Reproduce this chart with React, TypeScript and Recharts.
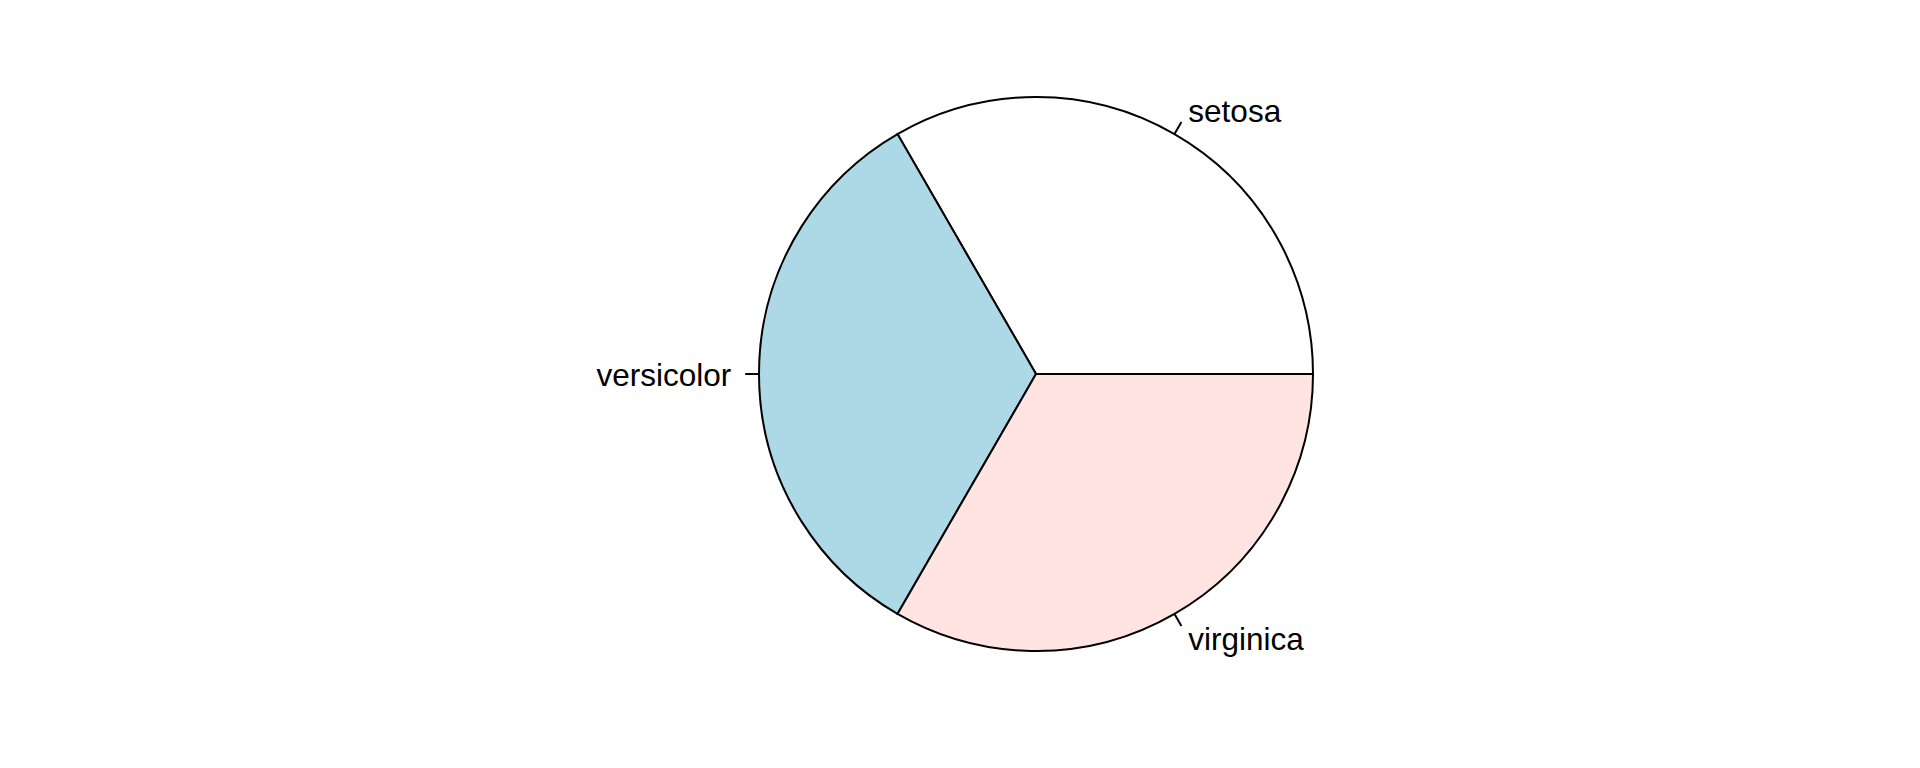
import { Pie, PieChart, Cell } from "recharts";

const species = ["setosa", "versicolor", "virginica"];
const counts = [50, 50, 50];
const sliceColors = ["#FFFFFF", "#ADD8E6", "#FFE4E1"];

const data = species.map((name, i) => ({ name, value: counts[i] }));

const RADIAN = Math.PI / 180;

function SliceLabel(props: any) {
  const { cx, cy, midAngle, outerRadius, name } = props;
  const c = Math.cos(-midAngle * RADIAN);
  const s = Math.sin(-midAngle * RADIAN);
  const x1 = cx + outerRadius * c;
  const y1 = cy + outerRadius * s;
  const x2 = cx + outerRadius * 1.05 * c;
  const y2 = cy + outerRadius * 1.05 * s;
  const tx = cx + outerRadius * 1.1 * c;
  const ty = cy + outerRadius * 1.1 * s;
  return (
    <g>
      <line x1={x1} y1={y1} x2={x2} y2={y2} stroke="#000" strokeWidth={2} />
      <text
        x={tx}
        y={ty}
        dy={12}
        textAnchor={c < 0 ? "end" : "start"}
        fill="#000"
        fontSize={31.5}
        fontFamily="'Liberation Sans', Arial, sans-serif"
      >
        {name}
      </text>
    </g>
  );
}

export default function App() {
  return (
    <div style={{ position: "fixed", left: 0, top: 0, width: 1920, height: 768, background: "#fff" }}>
      <PieChart width={1920} height={768} margin={{ top: 0, right: 0, bottom: 0, left: 0 }}>
        <Pie
          data={data}
          dataKey="value"
          nameKey="name"
          cx={1036}
          cy={374}
          outerRadius={277}
          startAngle={0}
          endAngle={360}
          stroke="#000"
          strokeWidth={2}
          label={SliceLabel}
          labelLine={false}
          isAnimationActive={false}
        >
          {data.map((d, i) => (
            <Cell key={d.name} fill={sliceColors[i]} />
          ))}
        </Pie>
      </PieChart>
    </div>
  );
}
